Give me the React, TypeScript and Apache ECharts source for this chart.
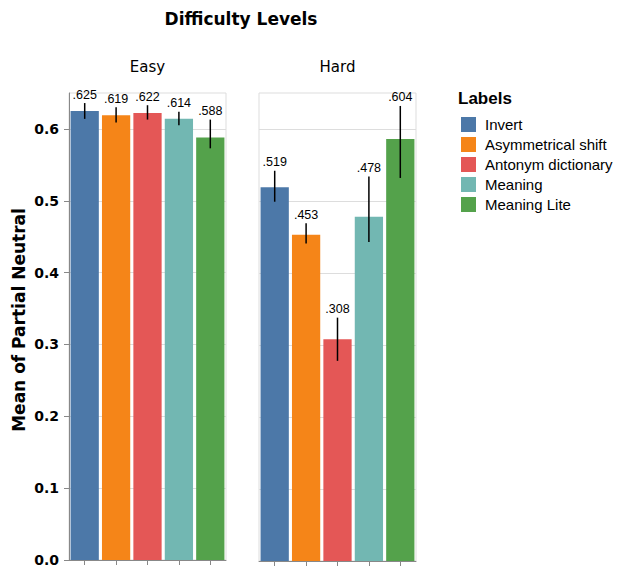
import React, { useEffect, useRef } from "react";
import * as echarts from "echarts";

const categories = ["Invert", "Asymmetrical shift", "Antonym dictionary", "Meaning", "Meaning Lite"];
const colors = ["#4c78a8", "#f58518", "#e45756", "#72b7b2", "#54a24b"];
const facets = ["Easy", "Hard"];

const easyMean = [0.625, 0.619, 0.622, 0.614, 0.588];
const easyLow = [0.614, 0.609, 0.613, 0.605, 0.573];
const easyHigh = [0.636, 0.63, 0.633, 0.624, 0.613];
const easyLabels = [".625", ".619", ".622", ".614", ".588"];

const hardMean = [0.519, 0.453, 0.308, 0.478, 0.586];
const hardLow = [0.499, 0.441, 0.278, 0.443, 0.532];
const hardHigh = [0.542, 0.469, 0.338, 0.534, 0.632];
const hardLabels = [".519", ".453", ".308", ".478", ".604"];

const yTicks = [0, 0.1, 0.2, 0.3, 0.4, 0.5, 0.6];

const FONT = "DejaVu Sans";
const FONT2 = "Liberation Sans, Arial, Helvetica, sans-serif";

export default function App() {
  const ref = useRef<HTMLDivElement>(null);
  useEffect(() => {
    document.body.style.margin = "0";
    document.body.style.overflow = "hidden";
    if (!ref.current) return;
    const chart = echarts.init(ref.current, undefined, { renderer: "svg" });
    const panels = [
      { mean: easyMean, low: easyLow, high: easyHigh, labels: easyLabels },
      { mean: hardMean, low: hardLow, high: hardHigh, labels: hardLabels },
    ];
    const grids = [
      { left: 69, top: 93, width: 157, height: 468 },
      { left: 259, top: 93, width: 157, height: 468 },
    ];
    const series: any[] = [];
    panels.forEach((p, gi) => {
      categories.forEach((c, ci) => {
        series.push({
          type: "bar",
          name: c,
          xAxisIndex: gi,
          yAxisIndex: gi,
          stack: "s" + gi,
          barCategoryGap: "10%",
          itemStyle: { color: colors[ci] },
          data: categories.map((_, k) => (k === ci ? p.mean[k] : "-")),
        });
      });
      series.push({
        type: "custom",
        xAxisIndex: gi,
        yAxisIndex: gi,
        z: 10,
        data: categories.map((c, k) => [k, p.low[k], p.high[k]]),
        renderItem: (params: any, api: any) => {
          const x = api.value(0);
          const lo = api.coord([x, api.value(1)]);
          const hi = api.coord([x, api.value(2)]);
          const label = p.labels[params.dataIndex];
          return {
            type: "group",
            children: [
              {
                type: "line",
                shape: { x1: lo[0], y1: lo[1], x2: hi[0], y2: hi[1] },
                style: { stroke: "#000", lineWidth: 1.5 },
              },
              {
                type: "text",
                x: hi[0],
                y: hi[1] - 2,
                style: {
                  text: label,
                  fill: "#000",
                  font: `12.5px ${FONT2}`,
                  textAlign: "center",
                  textVerticalAlign: "bottom",
                },
              },
            ],
          };
        },
      });
    });

    chart.setOption({
      animation: false,
      grid: grids.map((g) => ({ ...g, show: true, borderColor: "#ddd", borderWidth: 1, backgroundColor: "transparent" })),
      xAxis: grids.map((_, gi) => ({
        type: "category",
        gridIndex: gi,
        data: categories,
        axisLine: { show: true, lineStyle: { color: "#888", width: 1 } },
        axisTick: { show: true, alignWithLabel: true, interval: 0, length: 5, lineStyle: { color: "#888" } },
        axisLabel: { show: false, interval: 0 },
        splitLine: { show: false },
      })),
      yAxis: grids.map((_, gi) => ({
        type: "value",
        gridIndex: gi,
        min: 0,
        max: 0.65,
        interval: 0.1,
        axisLine: { show: gi === 0, lineStyle: { color: "#888", width: 1 } },
        axisTick: { show: gi === 0, length: 5, lineStyle: { color: "#888" }, customValues: yTicks },
        axisLabel: {
          show: gi === 0,
          customValues: yTicks,
          formatter: (v: number) => v.toFixed(1),
          fontFamily: FONT,
          fontWeight: "bold",
          fontSize: 14,
          color: "#000",
          margin: 10,
        },
        splitLine: { show: true, lineStyle: { color: "#ddd", width: 1 } },
      })),
      legend: {
        orient: "vertical",
        left: 456,
        top: 112,
        itemWidth: 15,
        itemHeight: 15,
        itemGap: 5,
        icon: "rect",
        data: categories,
        textStyle: { fontFamily: FONT2, fontSize: 15, color: "#000", padding: [0, 0, 0, 4] },
        selectedMode: false,
      },
      graphic: [
        {
          type: "text",
          x: 241,
          y: 19,
          style: {
            text: "Difficulty Levels",
            font: `bold 17px ${FONT}`,
            fill: "#000",
            textAlign: "center",
            textVerticalAlign: "middle",
          },
        },
        ...facets.map((f, i) => ({
          type: "text",
          x: grids[i].left + grids[i].width / 2,
          y: 67,
          style: {
            text: f,
            font: `15px ${FONT}`,
            fill: "#000",
            textAlign: "center",
            textVerticalAlign: "middle",
          },
        })),
        {
          type: "text",
          x: 19,
          y: 320,
          rotation: Math.PI / 2,
          style: {
            text: "Mean of Partial Neutral",
            font: `bold 17px ${FONT}`,
            fill: "#000",
            textAlign: "center",
            textVerticalAlign: "middle",
          },
        },
        {
          type: "text",
          x: 458,
          y: 98,
          style: {
            text: "Labels",
            font: `bold 17px ${FONT2}`,
            fill: "#000",
            textAlign: "left",
            textVerticalAlign: "middle",
          },
        },
      ],
      series,
    });
    return () => chart.dispose();
  }, []);
  return <div ref={ref} style={{ width: 618, height: 567 }} />;
}
